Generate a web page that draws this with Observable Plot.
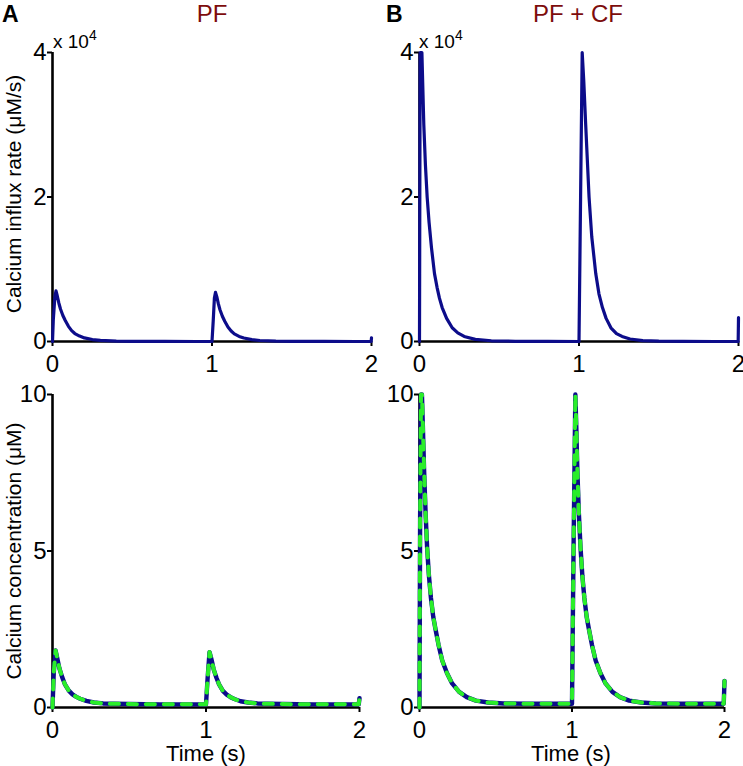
<!DOCTYPE html>
<html>
<head>
<meta charset="utf-8">
<script src="https://cdn.jsdelivr.net/npm/d3@7"></script>
<script src="https://cdn.jsdelivr.net/npm/@observablehq/plot@0.6"></script>
<style>
  html, body { margin: 0; padding: 0; background: #fff; }
  #wrap { position: relative; width: 743px; height: 766px; font-family: "Liberation Sans", Arial, sans-serif; overflow: hidden; }
  .abs { position: absolute; white-space: nowrap; line-height: 1; }
  .panel { position: absolute; }
  .letter { font-weight: bold; font-size: 23px; color: #000; }
  .title { font-size: 24px; color: #7d0c0c; transform: translateX(-50%); }
  .ylab { font-size: 21px; color: #000; transform: translate(-50%, -50%) rotate(-90deg); }
  .xlab { font-size: 22px; color: #000; transform: translate(-50%, -50%); }
  .mult { font-size: 19px; color: #000; }
  .mult sup { font-size: 14px; vertical-align: 8px; }
</style>
</head>
<body>
<div id="wrap"></div>
<script>
// ---- data ----
const xTicks = [0, 1, 2];
const rateTicks = [0, 2, 4];
const concTicks = [0, 5, 10];
const panelTitles = ["PF", "PF + CF"];
const panelLetters = ["A", "B"];
const rateLabel = "Calcium influx rate (\u03bcM/s)";
const concLabel = "Calcium concentration (\u03bcM)";
const timeLabel = "Time (s)";

// Panel A, calcium influx rate (units of 10^4 uM/s)
const rateA_t = [0, 0.005, 0.015, 0.022, 0.03, 0.04, 0.05, 0.065, 0.08, 0.1, 0.12, 0.14, 0.17, 0.2, 0.25, 0.3, 0.4, 0.5, 0.7, 0.9, 1.0, 1.008, 1.015, 1.022, 1.03, 1.04, 1.05, 1.065, 1.08, 1.1, 1.12, 1.14, 1.17, 1.2, 1.25, 1.3, 1.4, 1.5, 1.7, 1.9, 1.998, 2.0];
const rateA_v = [0, 0.3, 0.62, 0.70, 0.63, 0.53, 0.45, 0.36, 0.29, 0.21, 0.15, 0.11, 0.075, 0.05, 0.027, 0.015, 0.005, 0.002, 0.001, 0, 0, 0.3, 0.6, 0.68, 0.62, 0.52, 0.44, 0.35, 0.28, 0.2, 0.145, 0.105, 0.07, 0.048, 0.026, 0.014, 0.005, 0.002, 0.001, 0, 0, 0.05];

// Panel B, calcium influx rate (units of 10^4 uM/s)
const rateB_t = [0, 0.004, 0.015, 0.027, 0.037, 0.048, 0.06, 0.075, 0.094, 0.11, 0.125, 0.142, 0.17, 0.205, 0.24, 0.28, 0.35, 0.45, 0.6, 0.8, 1.0, 1.01, 1.02, 1.03, 1.042, 1.063, 1.08, 1.105, 1.125, 1.147, 1.17, 1.2, 1.235, 1.27, 1.32, 1.4, 1.5, 1.65, 1.85, 1.998, 2.0];
const rateB_v = [0, 4.0, 4.0, 3.0, 2.45, 2.0, 1.65, 1.3, 0.94, 0.75, 0.6, 0.47, 0.32, 0.19, 0.12, 0.07, 0.03, 0.01, 0.003, 0.001, 0, 2.0, 4.0, 3.6, 3.0, 2.0, 1.45, 0.94, 0.66, 0.47, 0.32, 0.19, 0.11, 0.07, 0.035, 0.012, 0.004, 0.001, 0, 0, 0.33];

// Panel A, calcium concentration (uM)
const concA_t = [0, 0.008, 0.02, 0.03, 0.045, 0.063, 0.08, 0.106, 0.13, 0.155, 0.18, 0.22, 0.27, 0.33, 0.4, 0.5, 0.7, 0.9, 1.0, 1.01, 1.023, 1.035, 1.05, 1.068, 1.085, 1.11, 1.135, 1.16, 1.185, 1.225, 1.275, 1.335, 1.4, 1.5, 1.7, 1.9, 1.995, 2.0];
const concA_v = [0, 1.1, 1.82, 1.6, 1.25, 0.97, 0.75, 0.54, 0.42, 0.34, 0.28, 0.21, 0.16, 0.13, 0.12, 0.11, 0.1, 0.1, 0.1, 0.9, 1.77, 1.55, 1.22, 0.95, 0.74, 0.53, 0.41, 0.33, 0.27, 0.2, 0.16, 0.13, 0.12, 0.11, 0.1, 0.1, 0.1, 0.3];

// Panel B, calcium concentration (uM)
const concB_t = [0, 0.004, 0.01, 0.016, 0.022, 0.03, 0.04, 0.05, 0.062, 0.075, 0.09, 0.105, 0.125, 0.149, 0.18, 0.214, 0.26, 0.31, 0.37, 0.45, 0.55, 0.7, 0.9, 1.0, 1.01, 1.022, 1.028, 1.035, 1.045, 1.056, 1.068, 1.081, 1.096, 1.111, 1.131, 1.155, 1.186, 1.22, 1.265, 1.315, 1.375, 1.455, 1.55, 1.7, 1.9, 1.995, 2.0];
const concB_v = [0, 6, 10, 10, 9.0, 7.6, 6.2, 5.1, 4.2, 3.5, 2.9, 2.5, 2.0, 1.5, 1.1, 0.77, 0.5, 0.33, 0.22, 0.16, 0.13, 0.12, 0.12, 0.12, 5, 10, 9.0, 7.6, 6.2, 5.1, 4.2, 3.5, 2.9, 2.5, 2.0, 1.5, 1.1, 0.77, 0.5, 0.33, 0.22, 0.16, 0.13, 0.12, 0.12, 0.12, 0.85];

// ---- build ----
const toRows = (ts, vs) => ts.map((t, i) => ({t, v: vs[i]}));
const navy = "#0c0c8a";
const green = "#2aee2a";
const wrap = document.getElementById("wrap");

function makePlot({rows, yTicks, width, height, ml, mr, mt, mb, conc}) {
  const marks = [
    Plot.ruleY([0], {strokeWidth: 2.6, stroke: "#000"}),
    Plot.ruleX([0], {strokeWidth: 2.6, stroke: "#000"}),
    Plot.axisX({ticks: xTicks, tickFormat: d => String(d), tickSize: 5, tickPadding: 8, strokeWidth: 2, label: null, fontSize: 24}),
    Plot.axisY({ticks: yTicks, tickFormat: d => String(d), tickSize: 5, tickPadding: 1, strokeWidth: 2, label: null, fontSize: 24})
  ];
  if (conc) {
    marks.push(Plot.line(rows, {x: "t", y: "v", stroke: navy, strokeWidth: 4.4}));
    marks.push(Plot.line(rows, {x: "t", y: "v", stroke: green, strokeWidth: 4, strokeDasharray: "9,9"}));
  } else {
    marks.push(Plot.line(rows, {x: "t", y: "v", stroke: navy, strokeWidth: 3.2}));
  }
  return Plot.plot({
    width, height,
    marginLeft: ml, marginRight: mr, marginTop: mt, marginBottom: mb,
    x: {domain: [xTicks[0], xTicks[xTicks.length - 1]]},
    y: {domain: [yTicks[0], yTicks[yTicks.length - 1]]},
    style: {fontFamily: "'Liberation Sans', Arial, sans-serif", fontSize: "24px", color: "#000", background: "transparent", overflow: "visible"},
    marks
  });
}

function place(el, left, top) {
  const d = document.createElement("div");
  d.className = "panel";
  d.style.left = left + "px";
  d.style.top = top + "px";
  d.appendChild(el);
  wrap.appendChild(d);
}

place(makePlot({rows: toRows(rateA_t, rateA_v), yTicks: rateTicks, width: 380, height: 372, ml: 52, mr: 9, mt: 52, mb: 31}), 0, 0);
place(makePlot({rows: toRows(rateB_t, rateB_v), yTicks: rateTicks, width: 363, height: 372, ml: 39, mr: 5, mt: 52, mb: 31}), 380, 0);
place(makePlot({rows: toRows(concA_t, concA_v), yTicks: concTicks, width: 380, height: 394, ml: 52, mr: 21, mt: 22, mb: 59, conc: true}), 0, 372);
place(makePlot({rows: toRows(concB_t, concB_v), yTicks: concTicks, width: 363, height: 394, ml: 39, mr: 19, mt: 22, mb: 59, conc: true}), 380, 372);

function addText(cls, html, left, top) {
  const d = document.createElement("div");
  d.className = "abs " + cls;
  d.style.left = left + "px";
  d.style.top = top + "px";
  d.innerHTML = html;
  wrap.appendChild(d);
}
addText("letter", panelLetters[0], 2, 3);
addText("letter", panelLetters[1], 386, 3);
addText("title", panelTitles[0], 212, 2);
addText("title", panelTitles[1], 578, 2);
addText("mult", "x 10<sup>4</sup>", 53, 28);
addText("mult", "x 10<sup>4</sup>", 419, 28);
addText("ylab", rateLabel, 13, 194);
addText("ylab", concLabel, 13, 551);
addText("xlab", timeLabel, 206, 754);
addText("xlab", timeLabel, 571, 754);
</script>
</body>
</html>
